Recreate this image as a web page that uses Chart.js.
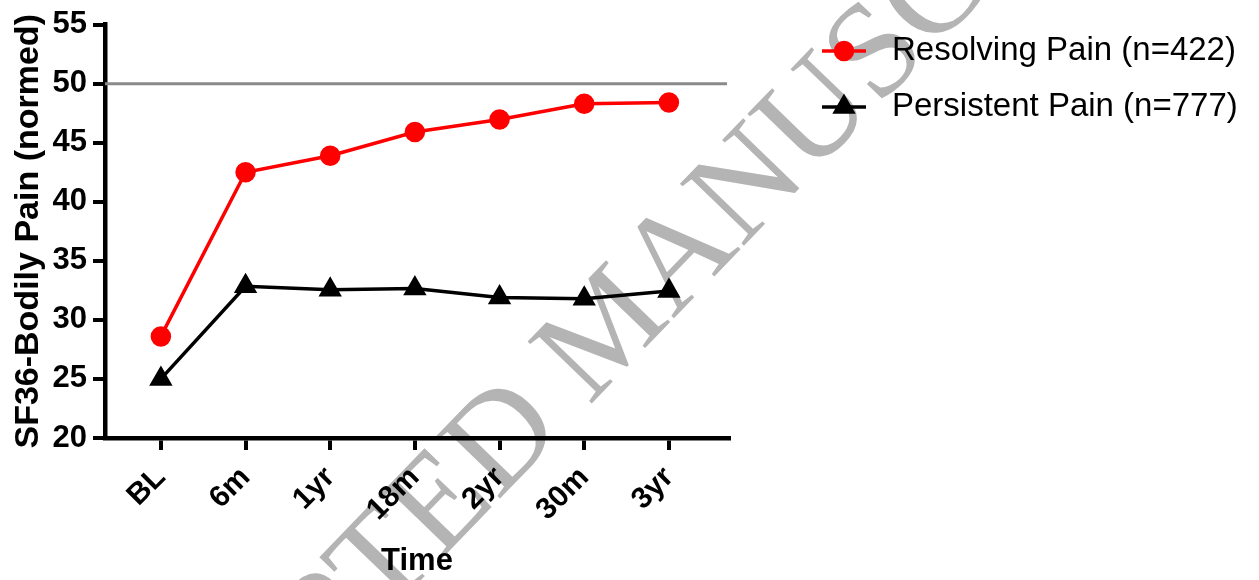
<!DOCTYPE html>
<html>
<head>
<meta charset="utf-8">
<script src="https://cdn.jsdelivr.net/npm/chart.js@4.4.1/dist/chart.umd.min.js"></script>
<style>
  html, body { margin: 0; padding: 0; background: #ffffff; }
  #wrap { width: 1259px; height: 580px; position: relative; }
</style>
</head>
<body>
<div id="wrap"><canvas id="c" width="1259" height="580"></canvas></div>
<script>
// ---- data ----
const categories = ['BL', '6m', '1yr', '18m', '2yr', '30m', '3yr'];
const resolvingPain = [28.6, 42.5, 43.9, 45.9, 46.97, 48.3, 48.4];
const persistentPain = [25.0, 32.85, 32.55, 32.65, 31.9, 31.8, 32.45];
const seriesLabels = ['Resolving Pain (n=422)', 'Persistent Pain (n=777)'];
const yTicks = [20, 25, 30, 35, 40, 45, 50, 55];
const referenceValue = 50;
const watermarkText = 'ACCEPTED MANUSCRIPT';

const toPoints = arr => arr.map((v, i) => ({ x: i, y: v }));

const watermarkPlugin = {
  id: 'watermark',
  beforeDraw(chart) {
    const ctx = chart.ctx;
    ctx.save();
    ctx.translate(612, 331);
    ctx.rotate(-46 * Math.PI / 180);
    ctx.font = '136px "Liberation Serif", "DejaVu Serif", serif';
    ctx.fillStyle = '#b4b4b4';
    ctx.textAlign = 'center';
    ctx.textBaseline = 'middle';
    ctx.fillText(watermarkText, 0, 0);
    ctx.restore();
  }
};

const refLinePlugin = {
  id: 'refLine',
  beforeDatasetsDraw(chart) {
    const { ctx, chartArea } = chart;
    const y = chart.scales.y.getPixelForValue(referenceValue);
    ctx.save();
    ctx.strokeStyle = '#8a8a8a';
    ctx.lineWidth = 3;
    ctx.beginPath();
    ctx.moveTo(chartArea.left, y);
    ctx.lineTo(chartArea.right - 2, y);
    ctx.stroke();
    ctx.restore();
  }
};

const legendPlugin = {
  id: 'customLegend',
  afterDraw(chart) {
    const ctx = chart.ctx;
    const rows = [51, 107];
    chart.data.datasets.forEach((ds, i) => {
      const y = rows[i];
      ctx.save();
      ctx.strokeStyle = ds.borderColor;
      ctx.lineWidth = 3.5;
      ctx.beginPath();
      ctx.moveTo(822, y);
      ctx.lineTo(866, y);
      ctx.stroke();
      ctx.fillStyle = ds.pointBackgroundColor;
      ctx.strokeStyle = ds.pointBorderColor;
      Chart.helpers.drawPoint(ctx, {
        pointStyle: ds.pointStyle,
        radius: ds.pointRadius,
        rotation: 0,
        borderWidth: 1
      }, 844, y);
      ctx.fillStyle = '#000';
      ctx.font = '33px "Liberation Sans", Arial, sans-serif';
      ctx.textAlign = 'left';
      ctx.textBaseline = 'middle';
      ctx.fillText(ds.label, 892, y);
      ctx.restore();
    });
  }
};

const ctx = document.getElementById('c').getContext('2d');
new Chart(ctx, {
  type: 'line',
  data: {
    datasets: [
      {
        label: seriesLabels[0],
        data: toPoints(resolvingPain),
        borderColor: '#ff0000',
        backgroundColor: '#ff0000',
        pointBackgroundColor: '#ff0000',
        pointBorderColor: '#ff0000',
        pointStyle: 'circle',
        pointRadius: 8.5,
        borderWidth: 3.5,
        tension: 0
      },
      {
        label: seriesLabels[1],
        data: toPoints(persistentPain),
        borderColor: '#000000',
        backgroundColor: '#000000',
        pointBackgroundColor: '#000000',
        pointBorderColor: '#000000',
        pointStyle: 'triangle',
        pointRadius: 10,
        borderWidth: 3.5,
        tension: 0
      }
    ]
  },
  options: {
    responsive: false,
    animation: false,
    layout: { padding: { left: 0, top: 24, right: 530, bottom: 0 } },
    plugins: {
      legend: { display: false },
      tooltip: { enabled: false }
    },
    scales: {
      x: {
        type: 'linear',
        min: -0.66,
        max: 6.71,
        afterBuildTicks(scale) {
          scale.ticks = categories.map((_, i) => ({ value: i }));
        },
        afterFit(scale) { scale.height = 142; },
        ticks: {
          autoSkip: false,
          minRotation: 45,
          maxRotation: 45,
          padding: 10,
          color: '#000',
          font: { family: '"Liberation Sans", Arial, sans-serif', size: 30, weight: 'bold' },
          callback: v => categories[v]
        },
        grid: { drawOnChartArea: false, drawTicks: true, tickLength: 12, color: '#000', lineWidth: 4 },
        border: { color: '#000', width: 4.5 },
        title: {
          display: true,
          text: 'Time',
          color: '#000',
          font: { family: '"Liberation Sans", Arial, sans-serif', size: 31, weight: 'bold' },
          padding: { top: 0, bottom: 0 }
        }
      },
      y: {
        min: 20,
        max: 55,
        afterBuildTicks(scale) {
          scale.ticks = yTicks.map(v => ({ value: v }));
        },
        afterFit(scale) { scale.width = 105; },
        ticks: {
          padding: 6,
          color: '#000',
          font: { family: '"Liberation Sans", Arial, sans-serif', size: 31, weight: 'bold' }
        },
        grid: { drawOnChartArea: false, drawTicks: true, tickLength: 12, color: '#000', lineWidth: 4 },
        border: { color: '#000', width: 4.5 },
        title: {
          display: true,
          text: 'SF36-Bodily Pain (normed)',
          color: '#000',
          font: { family: '"Liberation Sans", Arial, sans-serif', size: 34, weight: 'bold' },
          padding: { top: 8, bottom: 0 }
        }
      }
    }
  },
  plugins: [watermarkPlugin, refLinePlugin, legendPlugin]
});
</script>
</body>
</html>
